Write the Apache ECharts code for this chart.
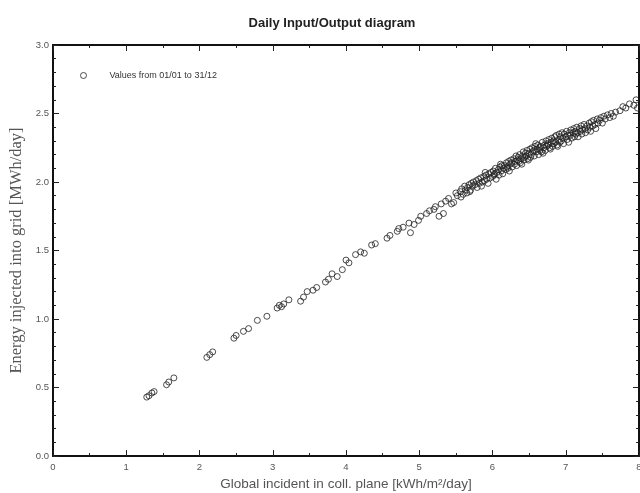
<!DOCTYPE html>
<html>
<head>
<meta charset="utf-8">
<script src="https://cdn.jsdelivr.net/npm/echarts@6/dist/echarts.min.js"></script>
<style>html,body{margin:0;padding:0;background:#fff}#c{width:640px;height:493px}</style>
</head>
<body>
<div id="c"></div>
<script>
var titleText = 'Daily Input/Output diagram';
var xAxisName = 'Global incident in coll. plane [kWh/m\u00b2/day]';
var yAxisName = 'Energy injected into grid [MWh/day]';
var legendText = 'Values from 01/01 to 31/12';
var xTicks = [0,1,2,3,4,5,6,7,8];
var yTicks = ['0.0','0.5','1.0','1.5','2.0','2.5','3.0'];

// Global incident in collector plane [kWh/m2/day]
var incident = [
1.28,1.31,1.35,1.38,1.55,1.58,1.65,2.10,2.14,2.18,2.47,2.50,2.60,2.67,2.79,2.92,3.06,3.09,3.12,3.15,
3.22,3.38,3.42,3.47,3.55,3.60,3.72,3.76,3.81,3.88,3.95,4.04,4.00,4.13,4.20,4.25,4.35,4.40,4.56,4.60,
4.70,4.72,4.78,4.88,4.86,4.93,4.99,5.02,5.10,5.14,5.20,5.22,5.27,5.30,5.33,5.36,5.40,5.44,5.47,5.50,
5.52,5.56,5.58,5.60,5.62,5.63,5.65,5.57,5.66,5.68,5.70,5.71,5.73,5.74,5.69,5.76,5.78,5.79,5.81,5.82,
5.84,5.85,5.86,5.88,5.89,5.91,5.92,5.94,5.95,5.90,5.97,5.98,6.00,6.01,6.02,6.04,6.05,6.03,6.06,6.08,
6.09,6.10,6.12,6.13,6.14,6.15,6.11,6.16,6.18,6.19,6.20,6.22,6.23,6.24,6.25,6.21,6.26,6.27,6.29,6.30,
6.31,6.32,6.33,6.34,6.35,6.36,6.37,6.39,6.40,6.41,6.42,6.43,6.44,6.45,6.38,6.46,6.47,6.48,6.50,6.51,
6.52,6.53,6.54,6.55,6.49,6.56,6.57,6.58,6.60,6.61,6.62,6.63,6.64,6.65,6.59,6.66,6.67,6.68,6.70,6.71,
6.72,6.73,6.74,6.75,6.69,6.76,6.77,6.78,6.80,6.81,6.82,6.83,6.84,6.85,6.79,6.86,6.87,6.88,6.90,6.91,
6.92,6.93,6.94,6.95,6.89,6.96,6.97,6.98,7.00,7.01,7.02,7.03,7.04,7.05,7.06,7.07,7.08,7.10,7.11,7.12,
7.13,7.14,7.15,7.16,7.17,7.19,7.20,7.21,7.22,7.23,7.25,7.26,7.27,7.29,7.30,7.32,7.33,7.34,7.35,7.37,
7.38,7.40,7.41,7.43,7.44,7.46,7.48,7.50,7.52,7.54,7.57,7.60,7.62,7.65,7.68,7.74,7.78,7.82,7.87,7.93,
7.96,7.98
];

// Energy injected into grid [MWh/day]
var injected = [
0.43,0.44,0.46,0.47,0.52,0.54,0.57,0.72,0.74,0.76,0.86,0.88,0.91,0.93,0.99,1.02,1.08,1.10,1.09,1.11,
1.14,1.13,1.16,1.20,1.21,1.23,1.27,1.29,1.33,1.31,1.36,1.41,1.43,1.47,1.49,1.48,1.54,1.55,1.59,1.61,
1.64,1.66,1.67,1.63,1.70,1.69,1.72,1.75,1.77,1.79,1.80,1.82,1.75,1.84,1.77,1.86,1.88,1.84,1.85,1.92,
1.90,1.93,1.95,1.91,1.97,1.94,1.92,1.89,1.96,1.98,1.94,1.99,1.97,2.00,1.93,1.98,2.01,1.96,2.02,1.99,
2.03,1.97,2.00,2.04,2.01,2.05,2.02,1.99,2.06,2.07,2.03,2.07,2.04,2.08,2.05,2.10,2.02,2.06,2.07,2.09,
2.05,2.11,2.08,2.12,2.06,2.10,2.13,2.12,2.09,2.14,2.11,2.15,2.08,2.13,2.16,2.10,2.14,2.11,2.17,2.13,
2.15,2.19,2.12,2.16,2.18,2.15,2.20,2.17,2.13,2.19,2.22,2.16,2.18,2.21,2.14,2.19,2.23,2.17,2.21,2.24,
2.18,2.20,2.25,2.22,2.16,2.23,2.19,2.26,2.22,2.24,2.27,2.20,2.25,2.23,2.28,2.26,2.22,2.29,2.25,2.27,
2.23,2.30,2.26,2.28,2.21,2.27,2.31,2.25,2.29,2.32,2.26,2.30,2.28,2.33,2.24,2.29,2.34,2.27,2.31,2.35,
2.29,2.33,2.30,2.36,2.26,2.32,2.28,2.35,2.33,2.37,2.31,2.34,2.29,2.36,2.34,2.38,2.32,2.36,2.39,2.33,
2.37,2.35,2.40,2.36,2.33,2.39,2.37,2.41,2.35,2.38,2.42,2.39,2.36,2.41,2.38,2.43,2.40,2.37,2.44,2.41,
2.45,2.42,2.39,2.46,2.43,2.45,2.47,2.43,2.48,2.46,2.49,2.47,2.50,2.48,2.51,2.52,2.55,2.54,2.57,2.56,
2.60,2.54
];

var points = incident.map(function (x, i) { return [x, injected[i]]; });

var chart = echarts.init(document.getElementById('c'), null, {renderer: 'canvas'});
var axisLine = {show: true, onZero: false, lineStyle: {color: '#111', width: 2}};
var lab = {color: '#555', fontSize: 9.5, fontFamily: 'Liberation Sans, Arial, sans-serif'};
chart.setOption({
  animation: false,
  backgroundColor: '#fff',
  title: {
    text: titleText, left: 327, top: 12, textAlign: 'center',
    textStyle: {fontSize: 13, fontWeight: 'bold', color: '#222', fontFamily: 'Liberation Sans, Arial, sans-serif'}
  },
  grid: {left: 53, right: 1, top: 45, bottom: 37, containLabel: false, outerBoundsMode: 'none'},
  xAxis: [{
    type: 'value', min: 0, max: 8, interval: 1, position: 'bottom',
    name: xAxisName, nameLocation: 'middle', nameGap: 20,
    nameTextStyle: {color: '#555', fontSize: 13.5, fontFamily: 'Liberation Sans, Arial, sans-serif'},
    axisLine: axisLine,
    axisTick: {show: true, inside: true, length: 6, lineStyle: {color: '#222', width: 1}},
    minorTick: {show: true, splitNumber: 2, length: 3, lineStyle: {color: '#222'}},
    axisLabel: Object.assign({margin: 6, formatter: function (v) { return xTicks.indexOf(v) >= 0 ? String(v) : ''; }}, lab),
    splitLine: {show: false}
  }, {
    type: 'value', min: 0, max: 8, interval: 1, position: 'top',
    axisLine: axisLine,
    axisTick: {show: true, inside: true, length: 6, lineStyle: {color: '#222', width: 1}},
    minorTick: {show: true, splitNumber: 2, length: 3, lineStyle: {color: '#222'}},
    axisLabel: {show: false}, splitLine: {show: false}
  }],
  yAxis: [{
    type: 'value', min: 0, max: 3, interval: 0.5, position: 'left',
    name: yAxisName, nameLocation: 'middle', nameGap: 28, nameRotate: 90,
    nameTextStyle: {color: '#555', fontSize: 16.5, fontFamily: 'Liberation Serif, Times New Roman, serif'},
    axisLine: axisLine,
    axisTick: {show: true, inside: true, length: 6, lineStyle: {color: '#222', width: 1}},
    minorTick: {show: true, splitNumber: 5, length: 3, lineStyle: {color: '#222'}},
    axisLabel: Object.assign({margin: 4, formatter: function (v) { return yTicks[Math.round(v * 2)]; }}, lab),
    splitLine: {show: false}
  }, {
    type: 'value', min: 0, max: 3, interval: 0.5, position: 'right',
    axisLine: axisLine,
    axisTick: {show: true, inside: true, length: 6, lineStyle: {color: '#222', width: 1}},
    minorTick: {show: true, splitNumber: 5, length: 3, lineStyle: {color: '#222'}},
    axisLabel: {show: false}, splitLine: {show: false}
  }],
  legend: {
    show: true, left: 75, top: 66, itemWidth: 6, itemHeight: 6, itemGap: 4,
    data: [{name: legendText, icon: 'circle'}],
    textStyle: {fontSize: 9, color: '#333', padding: [0, 0, 0, 18], fontFamily: 'Liberation Sans, Arial, sans-serif'},
    itemStyle: {color: 'transparent', borderColor: '#222', borderWidth: 1}
  },
  series: [{
    name: legendText, type: 'scatter', data: points,
    symbol: 'circle', symbolSize: 6,
    itemStyle: {color: 'rgba(255,255,255,0)', borderColor: '#222', borderWidth: 1}
  }]
});
</script>
</body>
</html>
